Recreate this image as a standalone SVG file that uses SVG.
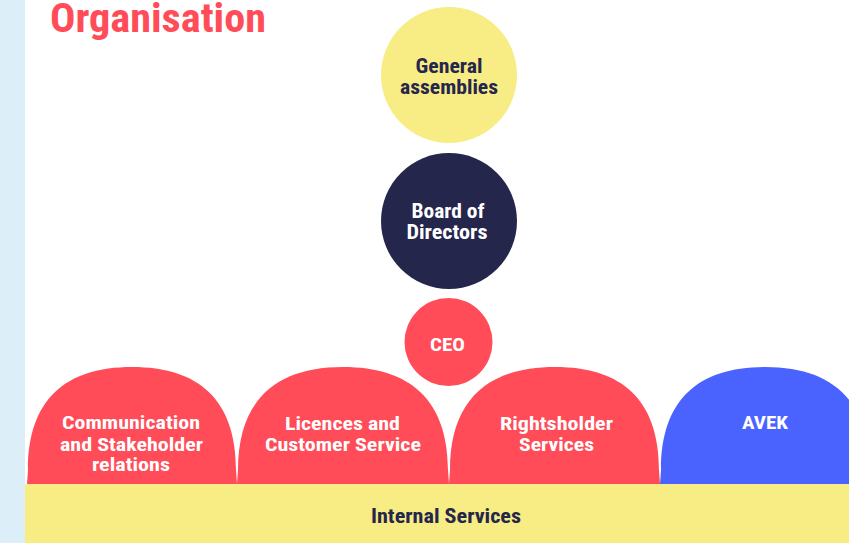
<svg xmlns="http://www.w3.org/2000/svg" width="849" height="543" viewBox="0 0 849 543">
<style>
text{font-family:"Roboto Condensed",Roboto,"Liberation Sans",sans-serif;font-weight:700;text-anchor:middle}
.red{fill:#FF4C58}.yel{fill:#F8EC84}.navy{fill:#24264B}.blue{fill:#4A63FF}
.lw{fill:#FFFFFF;font-size:19px}.ld{fill:#24264B;font-size:19.5px}
</style>
<rect x="0" y="0" width="849" height="543" fill="#FFFFFF"/>
<rect x="0" y="0" width="25" height="543" fill="#DCEEF8"/>
<text x="50" y="32" style="text-anchor:start;font-size:41px;fill:#FF4C58" textLength="216" lengthAdjust="spacingAndGlyphs">Organisation</text>
<g id="connectors"></g>
<g id="general-assemblies">
<circle class="yel" cx="449" cy="75" r="68"/>
<text class="ld" x="449" y="73" textLength="67" lengthAdjust="spacingAndGlyphs">General</text>
<text class="ld" x="449" y="93.5" textLength="98" lengthAdjust="spacingAndGlyphs">assemblies</text>
</g>
<g id="board">
<circle class="navy" cx="449" cy="221" r="68"/>
<text class="lw" style="font-size:19.5px" x="448" y="218" textLength="73" lengthAdjust="spacingAndGlyphs">Board of</text>
<text class="lw" style="font-size:19.5px" x="447" y="239" textLength="81" lengthAdjust="spacingAndGlyphs">Directors</text>
</g>
<g id="ceo">
<circle class="red" cx="448.5" cy="342" r="44"/>
<text class="lw" x="447.5" y="351" textLength="35" lengthAdjust="spacingAndGlyphs">CEO</text>
</g>
<g id="communication">
<path class="red" d="M27,484 L28,470 C28,400 65,367 132,367 C199,367 236,400 236,470 L237,484 Z"/>
<text class="lw" x="131" y="429" textLength="138" lengthAdjust="spacingAndGlyphs">Communication</text>
<text class="lw" x="131.5" y="450.5" textLength="143" lengthAdjust="spacingAndGlyphs">and Stakeholder</text>
<text class="lw" x="131" y="471" textLength="78" lengthAdjust="spacingAndGlyphs">relations</text>
</g>
<g id="licences">
<path class="red" d="M237,484 L238,470 C238,400 276,367 343,367 C410,367 448,400 448,470 L449,484 Z"/>
<text class="lw" x="342.5" y="430" textLength="115" lengthAdjust="spacingAndGlyphs">Licences and</text>
<text class="lw" x="343" y="451" textLength="156" lengthAdjust="spacingAndGlyphs">Customer Service</text>
</g>
<g id="rightsholder">
<path class="red" d="M449,484 L450,470 C450,400 488,367 555,367 C622,367 659,400 659,470 L660,484 Z"/>
<text class="lw" x="556.5" y="430" textLength="113" lengthAdjust="spacingAndGlyphs">Rightsholder</text>
<text class="lw" x="556.5" y="451" textLength="75" lengthAdjust="spacingAndGlyphs">Services</text>
</g>
<g id="avek">
<path class="blue" d="M660,484 L661,470 C661,400 698,367 765,367 C832,367 869,400 869,470 L870,484 Z"/>
<text class="lw" x="765" y="429" textLength="46" lengthAdjust="spacingAndGlyphs">AVEK</text>
</g>
<g id="internal-services">
<rect class="yel" x="25" y="484" width="824" height="59"/>
<text class="ld" x="446" y="523" textLength="150" lengthAdjust="spacingAndGlyphs">Internal Services</text>
</g>
</svg>
